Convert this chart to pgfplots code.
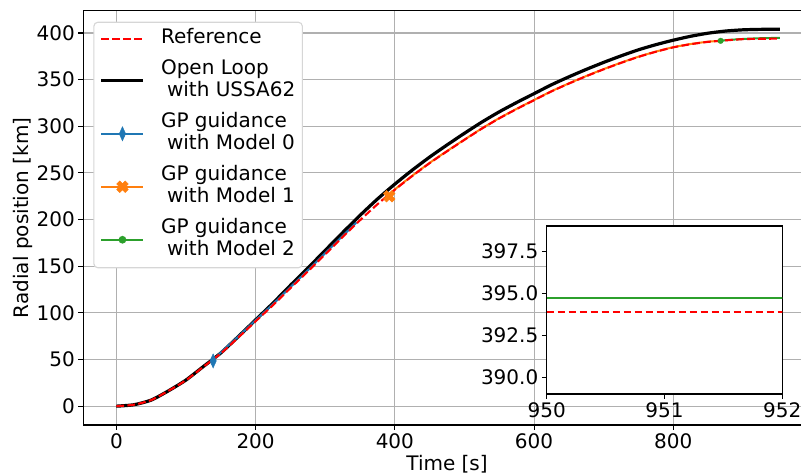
\documentclass[border=0pt]{standalone}
\usepackage{fontspec}
\setmainfont{DejaVu Sans}
\usepackage{pgfplots}
\usepackage{pgfplotstable}
\pgfplotsset{compat=1.18}

\definecolor{tabblue}{HTML}{1F77B4}
\definecolor{taborange}{HTML}{FF7F0E}
\definecolor{tabgreen}{HTML}{2CA02C}
\definecolor{gridgray}{HTML}{B0B0B0}
\definecolor{legedge}{HTML}{D6D6D6}

% filled "X" marker
\pgfdeclareplotmark{Xfill}{%
  \pgftransformrotate{45}%
  \pgfpathmoveto{\pgfpoint{-0.36\pgfplotmarksize}{\pgfplotmarksize}}%
  \pgfpathlineto{\pgfpoint{0.36\pgfplotmarksize}{\pgfplotmarksize}}%
  \pgfpathlineto{\pgfpoint{0.36\pgfplotmarksize}{0.36\pgfplotmarksize}}%
  \pgfpathlineto{\pgfpoint{\pgfplotmarksize}{0.36\pgfplotmarksize}}%
  \pgfpathlineto{\pgfpoint{\pgfplotmarksize}{-0.36\pgfplotmarksize}}%
  \pgfpathlineto{\pgfpoint{0.36\pgfplotmarksize}{-0.36\pgfplotmarksize}}%
  \pgfpathlineto{\pgfpoint{0.36\pgfplotmarksize}{-\pgfplotmarksize}}%
  \pgfpathlineto{\pgfpoint{-0.36\pgfplotmarksize}{-\pgfplotmarksize}}%
  \pgfpathlineto{\pgfpoint{-0.36\pgfplotmarksize}{-0.36\pgfplotmarksize}}%
  \pgfpathlineto{\pgfpoint{-\pgfplotmarksize}{-0.36\pgfplotmarksize}}%
  \pgfpathlineto{\pgfpoint{-\pgfplotmarksize}{0.36\pgfplotmarksize}}%
  \pgfpathlineto{\pgfpoint{-0.36\pgfplotmarksize}{0.36\pgfplotmarksize}}%
  \pgfpathclose
  \pgfusepathqfillstroke
}

% radial position [km] versus time [s]
\pgfplotstableread{
t r
0 0
25 1.5
50 6.5
75 16.5
100 28
125 42.5
150 57
175 74.5
200 92.5
225 110.5
250 129.5
275 148
300 167
325 186
350 204.5
375 222
400 238
425 253
450 267
475 280
500 292.5
525 304.5
550 315.5
575 325.5
600 335
625 344.5
650 353
675 361
700 368.5
725 375.5
750 382
775 387.5
800 392.3
825 396.5
850 399.8
875 402.1
900 403.4
925 403.9
953 404
}\openloop

\pgfplotstableread{
t r
0 0
25 1.5
50 6.5
75 16.5
100 27.8
125 42.2
150 56.5
175 73.5
200 91
225 108.3
250 126.5
275 144.4
300 162.8
325 181.3
350 199.3
375 216.4
400 232
425 246.7
450 260.5
475 273.2
500 285.5
525 297.5
550 308.5
575 318.5
600 328
625 337.4
650 345.8
675 353.7
700 361.1
725 368
750 374.4
775 379.9
800 384.6
825 388
850 390.5
875 392.1
900 393.4
925 393.8
950 393.93
953 393.93
}\reference

\pgfplotstableread{
t r
139 48.5
150 57.6
175 74.6
200 92.2
225 109.5
250 127.6
275 145.6
300 164
325 182.5
345 197
}\modelzero

\pgfplotstableread{
t r
392 225
400 232.3
425 247
450 260.8
475 273.5
500 285.7
525 297.7
550 308.7
575 318.7
600 328.2
625 337.6
650 346
675 353.9
700 361.3
725 368.2
750 374.6
775 380.1
800 384.8
825 388.2
850 390.7
868 391.6
}\modelone

\pgfplotstableread{
t r
868 391.6
875 392.3
900 393.6
925 394.4
950 394.76
953 394.76
}\modeltwo

\pgfplotsset{
  mplaxis/.style={
    scale only axis,
    tick align=outside,
    tick pos=left,
    major tick length=4.9pt,
    every tick/.style={black, line width=1.1pt},
    axis line style={line width=1.1pt},
    /pgf/number format/assume math mode=true,
    scaled ticks=false,
  },
}

\newcommand{\twolines}[2]{\begin{tabular}{@{}l@{}}#1\\\hspace*{6pt}#2\end{tabular}}

\begin{document}
\begin{tikzpicture}[font=\fontsize{20pt}{22.5pt}\selectfont]
\useasboundingbox (0pt,0pt) rectangle (801pt,475pt);
\begin{axis}[
  mplaxis,
  at={(83.3pt,50pt)}, anchor=south west,
  width=727.5pt, height=414.3pt,
  xmin=-47.5, xmax=997.5, ymin=-20.2, ymax=423.9,
  xtick={0,200,400,600,800},
  ytick={0,50,100,150,200,250,300,350,400},
  grid=major,
  major grid style={gridgray, line width=1.1pt},
  xlabel={Time [s]},
  ylabel={Radial position [km]},
  ylabel shift=-3pt,
  legend cell align=left,
  legend image code/.code={\draw[mark repeat=2,mark phase=2] plot coordinates {(0pt,0pt) (21pt,0pt) (42pt,0pt)};},
  legend style={at={(0,1)}, anchor=north west, xshift=10pt, yshift=-11pt,
    draw=legedge, line width=1.1pt, rounded corners=4pt, fill=white,
    inner xsep=6pt, inner ysep=4.5pt, row sep=6pt, column sep=15pt,
    nodes={inner sep=1pt, text depth=}},
]
\addlegendimage{red, line width=2.1pt, dash pattern=on 7.7pt off 3.3pt}
\addlegendentry{\strut Reference}
\addlegendimage{black, line width=3.2pt}
\addlegendentry{\twolines{Open Loop}{with USSA62}}
\addlegendimage{tabblue, line width=2pt, mark=diamond*, mark size=7pt, mark options={xscale=0.6, solid, fill=tabblue, draw=tabblue, line width=0.5pt}}
\addlegendentry{\twolines{GP guidance}{with Model 0}}
\addlegendimage{taborange, line width=2pt, mark=Xfill, mark size=6pt, mark options={solid, fill=taborange, draw=taborange, line width=0.5pt}}
\addlegendentry{\twolines{GP guidance}{with Model 1}}
\addlegendimage{tabgreen, line width=2pt, mark=*, mark size=2.8pt, mark options={solid, fill=tabgreen, draw=tabgreen}}
\addlegendentry{\twolines{GP guidance}{with Model 2}}

\addplot[black, line width=3.2pt, smooth, tension=0.4, forget plot] table[x=t, y=r] {\openloop};
\addplot[tabblue, line width=2pt, smooth, tension=0.4, forget plot] table[x=t, y=r] {\modelzero};
\addplot[taborange, line width=2pt, smooth, tension=0.4, forget plot] table[x=t, y=r] {\modelone};
\addplot[tabgreen, line width=2pt, smooth, tension=0.4, forget plot] table[x=t, y=r] {\modeltwo};
\addplot[red, line width=2.1pt, dash pattern=on 7.7pt off 3.3pt, smooth, tension=0.4, forget plot] table[x=t, y=r] {\reference};
\addplot[only marks, mark=diamond*, mark size=7pt, mark options={xscale=0.6, fill=tabblue, draw=tabblue, line width=0.5pt}, mark indices={1}, forget plot] table[x=t, y=r] {\modelzero};
\addplot[only marks, mark=Xfill, mark size=6pt, mark options={fill=taborange, draw=taborange, line width=0.5pt}, mark indices={1}, forget plot] table[x=t, y=r] {\modelone};
\addplot[only marks, mark=*, mark size=2.8pt, mark options={fill=tabgreen, draw=tabgreen}, mark indices={1}, forget plot] table[x=t, y=r] {\modeltwo};
\end{axis}

% zoomed view of the final seconds
\begin{axis}[
  mplaxis,
  at={(546.7pt,81pt)}, anchor=south west,
  width=235.6pt, height=168pt,
  xmin=950, xmax=952, ymin=389.03, ymax=399.03,
  xtick={950,951,952},
  ytick={390,392.5,395,397.5},
  yticklabel style={/pgf/number format/.cd, fixed, fixed zerofill, precision=1},
  xticklabel style={/pgf/number format/.cd, fixed, precision=0, 1000 sep={}},
  axis background/.style={fill=white},
  restrict x to domain=945:960,
]
\addplot[tabgreen, line width=2pt] table[x=t, y=r] {\modeltwo};
\addplot[red, line width=2.1pt, dash pattern=on 7.7pt off 3.3pt] table[x=t, y=r] {\reference};
\end{axis}
\end{tikzpicture}
\end{document}
